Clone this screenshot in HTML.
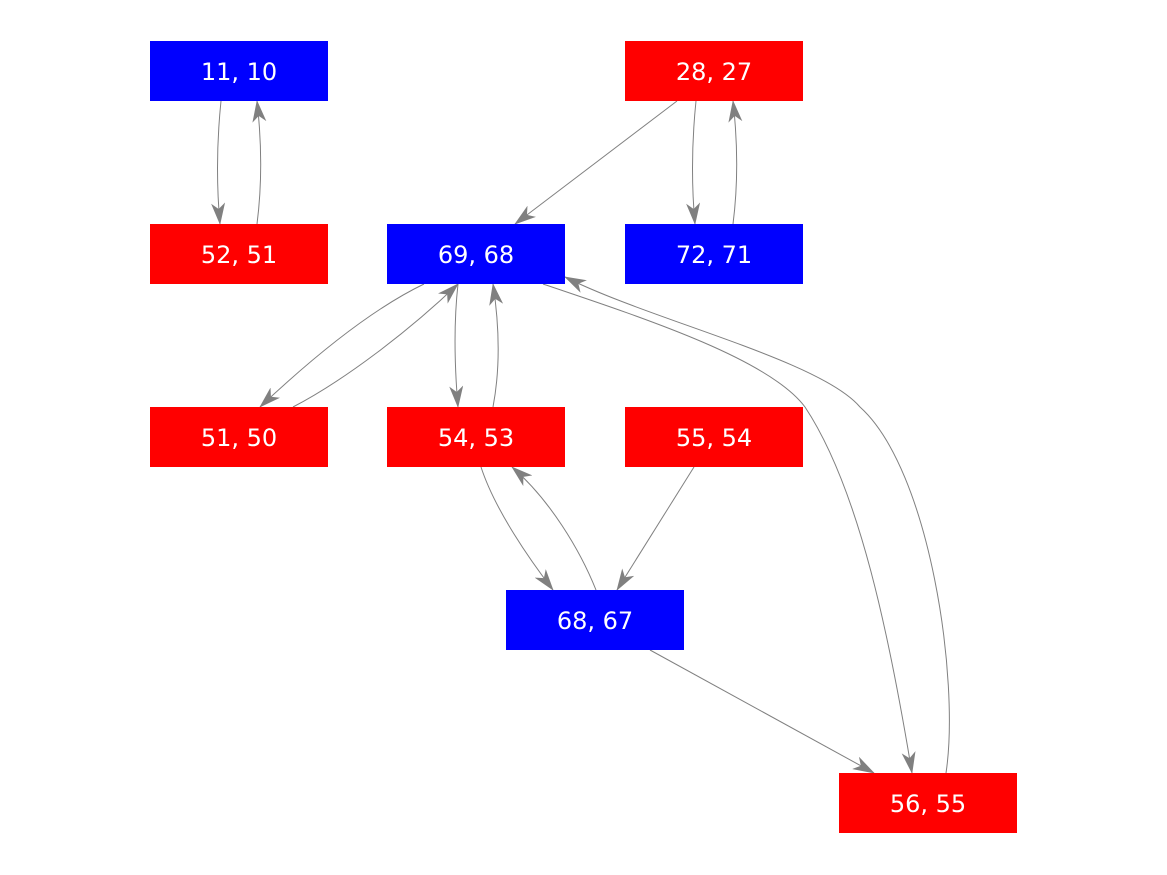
<!DOCTYPE html>
<html><head><meta charset="utf-8"><style>
html,body{margin:0;padding:0;background:#fff;}
svg{display:block;}
text{font-family:"DejaVu Sans","Liberation Sans",sans-serif;font-size:24px;fill:#fff;text-anchor:middle;}
</style></head><body>
<svg width="1167" height="875" viewBox="0 0 1167 875" xmlns="http://www.w3.org/2000/svg">
<defs>
<marker id="a" markerWidth="22" markerHeight="14" refX="21" refY="7" orient="auto" markerUnits="userSpaceOnUse">
<path d="M0,0 L22,7 L0,14 L6,7 Z" fill="#808080"/>
</marker>
</defs>
<g fill="none" stroke="#808080" stroke-width="1" marker-end="url(#a)">
<path d="M221,101 C217,140 216,180 220,224"/>
<path d="M257,224 C262,185 262,145 257,101"/>
<path d="M677,101 L515,224"/>
<path d="M696,101 C692,140 691,180 695,224"/>
<path d="M733,224 C738,185 738,145 733,101"/>
<path d="M424,284 C370,310 310,360 260,407"/>
<path d="M293,407 C345,380 410,330 458,284"/>
<path d="M458,284 C454,320 454,360 458,407"/>
<path d="M493,407 C500,370 500,330 493,284"/>
<path d="M543,284 C650,320 770,360 805,407 C860,490 890,640 912,773"/>
<path d="M946,773 C960,680 930,470 860,407 C820,360 650,320 565,277"/>
<path d="M481,467 C495,510 530,560 553,590"/>
<path d="M596,590 C580,550 550,500 512,467"/>
<path d="M694,467 L617,590"/>
<path d="M650,650 L874,773"/>
</g>
<rect x="150" y="41" width="178" height="60" fill="#0000ff"/>
<rect x="625" y="41" width="178" height="60" fill="#ff0000"/>
<rect x="150" y="224" width="178" height="60" fill="#ff0000"/>
<rect x="387" y="224" width="178" height="60" fill="#0000ff"/>
<rect x="625" y="224" width="178" height="60" fill="#0000ff"/>
<rect x="150" y="407" width="178" height="60" fill="#ff0000"/>
<rect x="387" y="407" width="178" height="60" fill="#ff0000"/>
<rect x="625" y="407" width="178" height="60" fill="#ff0000"/>
<rect x="506" y="590" width="178" height="60" fill="#0000ff"/>
<rect x="839" y="773" width="178" height="60" fill="#ff0000"/>
<text x="239" y="80">11, 10</text>
<text x="714" y="80">28, 27</text>
<text x="239" y="263">52, 51</text>
<text x="476" y="263">69, 68</text>
<text x="714" y="263">72, 71</text>
<text x="239" y="446">51, 50</text>
<text x="476" y="446">54, 53</text>
<text x="714" y="446">55, 54</text>
<text x="595" y="629">68, 67</text>
<text x="928" y="812">56, 55</text>
</svg>
</body></html>
